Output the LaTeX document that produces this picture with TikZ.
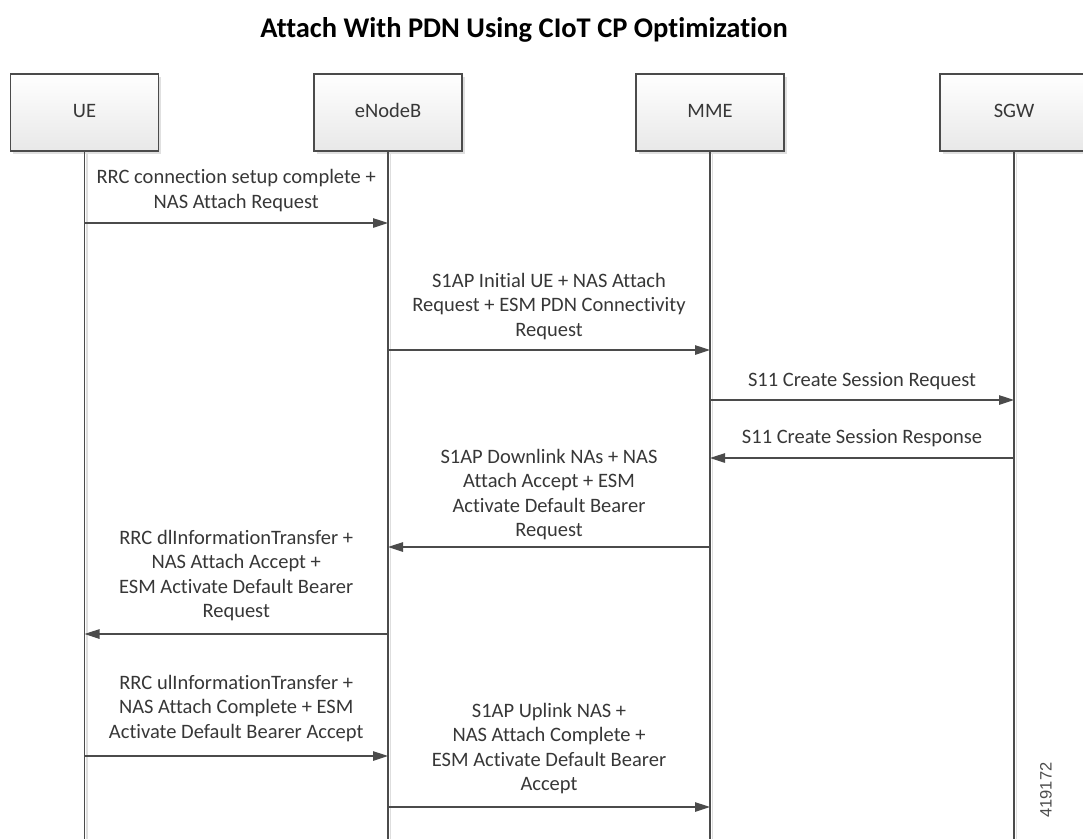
\documentclass[tikz,border=0pt]{standalone}
\usepackage{fontspec}
\setmainfont{Carlito}[Ligatures={NoCommon}]
\newfontfamily\numfont{Liberation Sans}
\usetikzlibrary{arrows.meta,shadows}
\definecolor{txt}{RGB}{55,55,55}
\definecolor{ln}{RGB}{75,75,75}
\begin{document}
\begin{tikzpicture}[x=1pt,y=-1pt,
  actor/.style={draw=ln, line width=1.1pt, top color=white, bottom color=black!9,
    minimum width=148pt, minimum height=77pt, inner sep=0pt,
    text height=13pt, text depth=4pt,
    font=\fontsize{20.5}{24}\selectfont, text=txt,
    drop shadow={shadow xshift=2.5pt, shadow yshift=-2.5pt, fill=black!12, opacity=1}},
  life/.style={draw=ln, line width=1.1pt},
  lifeshadow/.style={draw=black!13, line width=1.3pt},
  msg/.style={draw=ln, line width=1.1pt, -{Triangle[length=15pt,width=9.5pt]}},
  lbl/.style={font=\fontsize{20.5}{24.5}\selectfont, text=txt, align=center, inner sep=0pt}
]
\useasboundingbox (0,0) rectangle (1083,839);
\coordinate (bot) at (0,839);

\node[font=\bfseries\fontsize{28.5}{32}\selectfont, text=black, anchor=base, inner sep=0pt] (title) at (524,37) {Attach With PDN Using CIoT CP Optimization};

% lifeline shadows
\draw[lifeshadow] ([xshift=2.5pt]84.5,151) -- ([xshift=2.5pt]84.5,839);
\draw[lifeshadow] ([xshift=2.5pt]388,151) -- ([xshift=2.5pt]388,839);
\draw[lifeshadow] ([xshift=2.5pt]710,151) -- ([xshift=2.5pt]710,839);
\draw[lifeshadow] ([xshift=2.5pt]1014,151) -- ([xshift=2.5pt]1014,839);

\node[actor] (ue) at (84.5,112.5) {UE};
\node[actor] (enb) at (388,112.5) {eNodeB};
\node[actor] (mme) at (710,112.5) {MME};
\node[actor] (sgw) at (1014,112.5) {SGW};

\draw[life] (ue.south) -- (ue.south |- bot);
\draw[life] (enb.south) -- (enb.south |- bot);
\draw[life] (mme.south) -- (mme.south |- bot);
\draw[life] (sgw.south) -- (sgw.south |- bot);

% message 1
\coordinate (y1) at (0,223);
\draw[msg] (ue |- y1) -- (enb |- y1);
\node[lbl] (t1) at (236.2,191) {RRC connection setup complete +\strut\\NAS Attach Request\strut};
% message 2
\coordinate (y2) at (0,350);
\draw[msg] (enb |- y2) -- (mme |- y2);
\node[lbl] (t2) at (549,307) {S1AP Initial UE + NAS Attach\strut\\Request + ESM PDN Connectivity\strut\\Request\strut};
% message 3
\coordinate (y3) at (0,400);
\draw[msg] (mme |- y3) -- (sgw |- y3);
\node[lbl] (t3) at (862,382) {S11 Create Session Request\strut};
% message 4
\coordinate (y4) at (0,458);
\draw[msg] (sgw |- y4) -- (mme |- y4);
\node[lbl] (t4) at (862,439) {S11 Create Session Response\strut};
% message 5
\coordinate (y5) at (0,547);
\draw[msg] (mme |- y5) -- (enb |- y5);
\node[lbl] (t5) at (549,495) {S1AP Downlink NAs + NAS\strut\\Attach Accept + ESM\strut\\Activate Default Bearer\strut\\Request\strut};
% message 6
\coordinate (y6) at (0,634);
\draw[msg] (enb |- y6) -- (ue |- y6);
\node[lbl] (t6) at (236.2,576) {RRC dlInformationTransfer +\strut\\NAS Attach Accept +\strut\\ESM Activate Default Bearer\strut\\Request\strut};
% message 7
\coordinate (y7) at (0,756);
\draw[msg] (ue |- y7) -- (enb |- y7);
\node[lbl] (t7) at (236.2,709) {RRC ulInformationTransfer +\strut\\NAS Attach Complete + ESM\strut\\Activate Default Bearer Accept\strut};
% message 8
\coordinate (y8) at (0,807);
\draw[msg] (enb |- y8) -- (mme |- y8);
\node[lbl] (t8) at (549,749) {S1AP Uplink NAS +\strut\\NAS Attach Complete +\strut\\ESM Activate Default Bearer\strut\\Accept\strut};

\node[rotate=90, font=\numfont\fontsize{16.5}{18}\selectfont, text=black!70] (id) at (1046,790) {419172};
\end{tikzpicture}
\end{document}
